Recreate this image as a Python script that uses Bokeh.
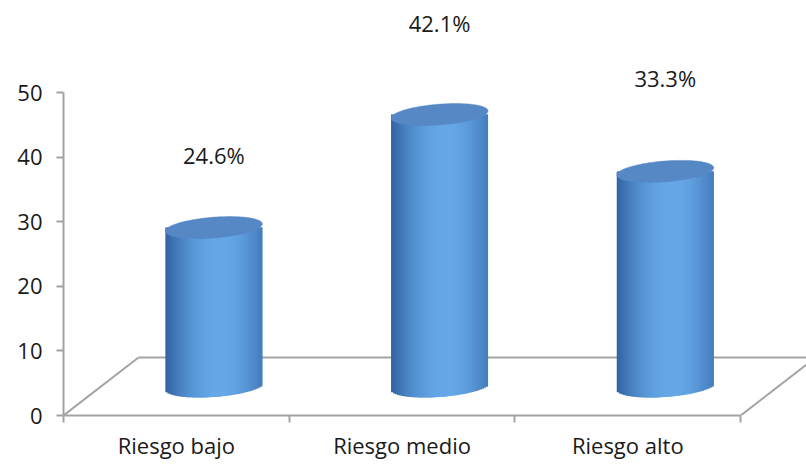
import math
from bokeh.plotting import figure
from bokeh.models import Range1d, FixedTicker
from bokeh.core.properties import value
from bokeh.embed import file_html
from bokeh.resources import INLINE

# ---- data ----
categories = ["Riesgo bajo", "Riesgo medio", "Riesgo alto"]
percentages = [24.6, 42.1, 33.3]
pct_labels = ["24.6%", "42.1%", "33.3%"]
y_ticks = [0, 10, 20, 30, 40, 50]

# ---- layout / style constants ----
W, H = 806, 464
FRAME_L, FRAME_R, FRAME_T, FRAME_B = 63, 806, 0, 415
PX_X = 225.7          # pixels per category unit
PX_Y = 6.46           # pixels per value unit
DEPTH_X = 75 / PX_X   # floor depth, data units
DEPTH_Y = 58 / PX_Y
FONT = "Open Sans"
GRAY = "#a3a3a3"

x_end = (FRAME_R - FRAME_L) / PX_X
y_end = (FRAME_B - FRAME_T) / PX_Y

p = figure(width=W, height=H, output_backend="svg", toolbar_location=None,
           x_range=Range1d(0, x_end), y_range=Range1d(0, y_end),
           min_border_left=FRAME_L, min_border_right=0, min_border_top=0,
           min_border_bottom=H - FRAME_B)
p.outline_line_color = None
p.grid.visible = False
p.background_fill_color = "white"
p.border_fill_color = "white"

n = len(categories)

# ---- floor (3D back plane) ----
p.line([0, DEPTH_X], [0, DEPTH_Y], line_color=GRAY, line_width=2)
p.line([DEPTH_X, n + DEPTH_X + 0.2], [DEPTH_Y, DEPTH_Y], line_color=GRAY, line_width=2)
p.line([n, n + DEPTH_X], [0, DEPTH_Y], line_color=GRAY, line_width=2)

# ---- cylinders ----
half_w = 48.5   # px
b_px = 16.0     # tilt term px
c_px = 11.0     # vertical half extent px
a_px = math.sqrt(half_w ** 2 - b_px ** 2)
N = 48

dark = (46, 94, 158)
light = (102, 168, 232)


def shade(t):
    f = math.cos((t - 0.56) * math.pi / 1.15)
    f = max(0.0, f) ** 0.9
    r = [int(dark[k] + (light[k] - dark[k]) * f) for k in range(3)]
    return "#%02x%02x%02x" % tuple(r)


for i, v in enumerate(percentages):
    cx = i + 0.5 + DEPTH_X / 2
    base = DEPTH_Y / 2
    top = base + v
    xs, bottoms, tops, cols, widths = [], [], [], [], []
    step = 2 * half_w / N
    for k in range(N):
        t = (k + 0.5) / N
        u = (t - 0.5) * 2 * half_w  # px offset
        s_low = (b_px * u - a_px * math.sqrt(max(half_w ** 2 - u ** 2, 0))) / half_w ** 2
        last = (k == N - 1)
        xs.append(cx + (u + (0 if last else 1.0)) / PX_X)
        widths.append((step + (0 if last else 2.0)) / PX_X)
        bottoms.append(base + c_px * s_low / PX_Y)
        tops.append(top)
        cols.append(shade(t))
    p.vbar(x=xs, width=widths, bottom=bottoms, top=tops,
           fill_color=cols, line_color=None)
    # top ellipse
    ex, ey = [], []
    for k in range(120):
        th = 2 * math.pi * k / 120
        ex.append(cx + (a_px * math.cos(th) + b_px * math.sin(th)) / PX_X)
        ey.append(top + c_px * math.sin(th) / PX_Y)
    p.patch(ex, ey, fill_color="#5788c6", line_color="#5788c6", line_width=0.5)

# ---- percentage labels ----
label_nudge = [-3.0, 0.0, 0.3]
for i, v in enumerate(percentages):
    p.text(x=[i + 0.5 + DEPTH_X / 2], y=[DEPTH_Y / 2 + v + 14.2 + label_nudge[i]],
           text=[pct_labels[i]], text_align="center", text_baseline="middle",
           text_font=value(FONT), text_font_size="22px", text_color="#1a1a1a")

# ---- axes ----
yax = p.yaxis[0]
yax.ticker = FixedTicker(ticks=y_ticks)
yax.bounds = (0, 50)
yax.axis_line_color = GRAY
yax.axis_line_width = 2
yax.major_tick_line_color = GRAY
yax.major_tick_line_width = 2
yax.major_tick_out = 7
yax.major_tick_in = 0
yax.minor_tick_line_color = None
yax.major_label_text_font = FONT
yax.major_label_text_font_size = "22px"
yax.major_label_text_color = "#1a1a1a"
yax.major_label_standoff = 14

xax = p.xaxis[0]
xax.ticker = FixedTicker(ticks=[i + 0.5 for i in range(n)], minor_ticks=list(range(n + 1)))
xax.major_label_overrides = {i + 0.5: c for i, c in enumerate(categories)}
xax.bounds = (0, n)
xax.axis_line_color = GRAY
xax.axis_line_width = 2
xax.major_tick_line_color = None
xax.minor_tick_line_color = GRAY
xax.minor_tick_line_width = 2
xax.minor_tick_out = 7
xax.minor_tick_in = 0
xax.major_label_text_font = FONT
xax.major_label_text_font_size = "22px"
xax.major_label_text_color = "#1a1a1a"
xax.major_label_standoff = 7

open("out.html", "w").write(file_html(p, INLINE))
